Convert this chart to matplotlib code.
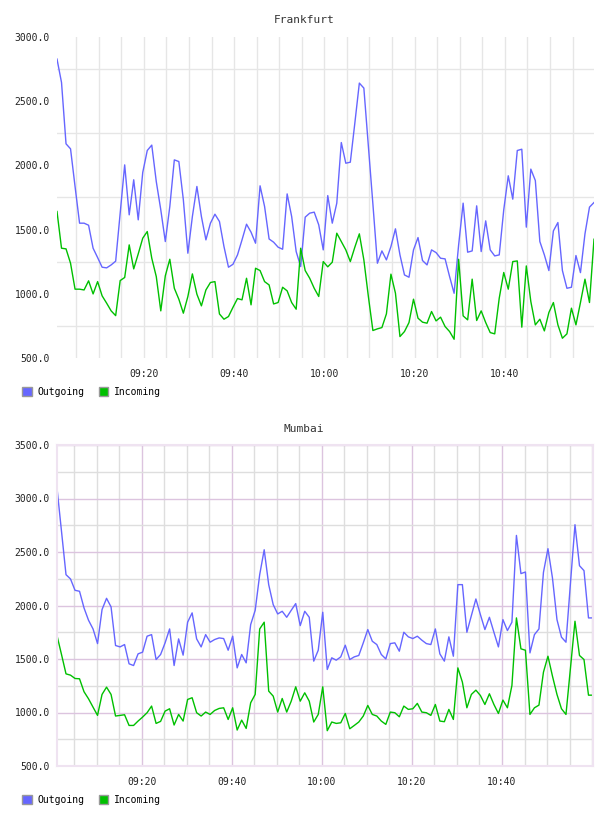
import pandas as pd
import matplotlib
matplotlib.use('Agg')
import matplotlib.pyplot as plt
import matplotlib.dates as mdates
from matplotlib.patches import Patch

plt.rcParams['font.family'] = ['DejaVu Sans Mono']

OUT_COLOR = '#6666ff'
IN_COLOR = '#00c000'

# one sample per minute
frankfurt_start = '2024-01-01 09:00:45'
mumbai_start = '2024-01-01 09:01:12'
time_labels = ['09:20', '09:40', '10:00', '10:20', '10:40']

frankfurt_out = [2828, 2646, 2168, 2129, 1836, 1550, 1550, 1534, 1355, 1282,
                 1207, 1202, 1225, 1254, 1628, 2004, 1615, 1888, 1576, 1945,
                 2116, 2158, 1874, 1654, 1407, 1680, 2043, 2030, 1732, 1316,
                 1602, 1836, 1602, 1420, 1550, 1620, 1563, 1368, 1207, 1230,
                 1303, 1420, 1542, 1480, 1394, 1841, 1680, 1427, 1402, 1363,
                 1347, 1778, 1602, 1329, 1212, 1597, 1628, 1636, 1537, 1342,
                 1765, 1550, 1706, 2178, 2017, 2025, 2329, 2641, 2602, 2150,
                 1700, 1238, 1334, 1264, 1368, 1506, 1303, 1147, 1129, 1342,
                 1438, 1259, 1225, 1342, 1321, 1277, 1272, 1134, 1004, 1380,
                 1706, 1324, 1334, 1685, 1329, 1568, 1342, 1295, 1303, 1654,
                 1919, 1737, 2116, 2126, 1519, 1971, 1882, 1407, 1303, 1181,
                 1490, 1555, 1181, 1043, 1051, 1298, 1165, 1467, 1675, 1711]

frankfurt_in = [1641, 1355, 1350, 1238, 1036, 1036, 1030, 1101, 999, 1095,
                984, 927, 867, 830, 1103, 1127, 1381, 1194, 1311, 1433,
                1485, 1277, 1134, 867, 1140, 1269, 1043, 958, 849, 979,
                1155, 997, 906, 1030, 1088, 1095, 843, 802, 823, 895,
                963, 953, 1121, 914, 1199, 1181, 1095, 1069, 921, 932,
                1051, 1023, 932, 880, 1355, 1181, 1121, 1043, 979, 1251,
                1210, 1246, 1472, 1407, 1342, 1251, 1363, 1467, 1264, 979,
                714, 727, 737, 844, 1153, 1005, 667, 706, 776, 958,
                810, 779, 771, 862, 789, 818, 745, 706, 646, 1269,
                828, 797, 1114, 792, 867, 776, 698, 688, 966, 1166,
                1036, 1251, 1256, 740, 1217, 940, 758, 802, 711, 854,
                932, 758, 654, 688, 888, 758, 932, 1114, 932, 1425]

mumbai_out = [3097, 2693, 2288, 2248, 2142, 2133, 1977, 1862, 1781, 1644,
              1962, 2067, 1987, 1626, 1613, 1635, 1455, 1439, 1548, 1564,
              1713, 1728, 1495, 1542, 1651, 1781, 1439, 1688, 1536, 1844,
              1931, 1688, 1613, 1728, 1657, 1682, 1697, 1691, 1582, 1713,
              1417, 1542, 1464, 1822, 1955, 2288, 2521, 2195, 2008, 1921,
              1946, 1890, 1955, 2018, 1812, 1946, 1890, 1480, 1582, 1937,
              1402, 1511, 1489, 1520, 1629, 1495, 1520, 1533, 1651, 1775,
              1666, 1635, 1542, 1501, 1644, 1651, 1573, 1750, 1707, 1691,
              1713, 1676, 1644, 1635, 1781, 1548, 1480, 1707, 1526, 2195,
              2195, 1750, 1906, 2061, 1915, 1775, 1890, 1750, 1613, 1868,
              1766, 1844, 2655, 2298, 2313, 1557, 1728, 1781, 2310, 2531,
              2257, 1868, 1704, 1657, 2211, 2755, 2372, 2326, 1884, 1884]

mumbai_in = [1719, 1542, 1361, 1349, 1318, 1315, 1194, 1128, 1050, 973,
             1169, 1237, 1169, 967, 973, 979, 879, 879, 920, 957,
             998, 1060, 898, 917, 1013, 1035, 883, 982, 920, 1122,
             1138, 998, 967, 1004, 982, 1019, 1038, 1044, 935, 1044,
             836, 929, 851, 1091, 1169, 1781, 1844, 1200, 1153, 1004,
             1131, 1004, 1106, 1240, 1106, 1184, 1106, 911, 982, 1240,
             830, 911, 898, 904, 991, 848, 879, 911, 967, 1066,
             982, 967, 920, 889, 1004, 998, 960, 1060, 1029, 1035,
             1085, 1004, 998, 973, 1075, 920, 914, 1029, 935, 1417,
             1284, 1044, 1169, 1209, 1159, 1075, 1175, 1075, 991, 1116,
             1044, 1253, 1884, 1595, 1582, 982, 1044, 1069, 1377, 1526,
             1340, 1169, 1035, 982, 1417, 1853, 1533, 1495, 1162, 1162]

W, H = 608, 816
fig = plt.figure(figsize=(W / 100, H / 100), dpi=100)


def px_rect(x0, y0, x1, y1):
    return [x0 / W, 1 - y1 / H, (x1 - x0) / W, (y1 - y0) / H]


def draw(rect, title, title_y, legend_y, start, out, inc, ymax, major_c, minor_c, frame_c):
    ax = fig.add_axes(rect)
    t = pd.date_range(start, periods=len(out), freq='60s')
    ax.plot(t, out, color=OUT_COLOR, lw=1.0)
    ax.plot(t, inc, color=IN_COLOR, lw=1.0)
    ax.set_xlim(t[0], t[-1])
    ax.set_ylim(500, ymax)
    ax.set_yticks(range(500, ymax + 1, 500))
    ax.set_yticklabels(['%.1f' % v for v in range(500, ymax + 1, 500)])
    day = t[0].strftime('%Y-%m-%d ')
    ax.set_xticks(pd.to_datetime([day + s for s in time_labels]))
    ax.set_xticklabels(time_labels)
    ax.xaxis.set_minor_locator(mdates.MinuteLocator(byminute=range(0, 60, 5)))
    ax.tick_params(which='both', length=0, labelsize=7, colors='#222222')
    ax.tick_params(axis='y', pad=5)
    ax.tick_params(axis='x', pad=8)
    ax.set_axisbelow(True)
    ax.grid(True, which='major', axis='x', color=major_c, lw=1)
    ax.grid(True, which='minor', axis='x', color=minor_c, lw=1)
    ax.set_yticks(range(750, ymax, 500), minor=True)
    ax.grid(True, which='minor', axis='y', color=minor_c, lw=1)
    if frame_c is None:
        # only the in-between lines are drawn
        for s in ax.spines.values():
            s.set_visible(False)
    else:
        ax.grid(True, which='major', axis='y', color=major_c, lw=1)
        for s in ax.spines.values():
            s.set_color(frame_c)
            s.set_linewidth(1.5)
    fig.text(0.5, 1 - title_y / H, title, ha='center', va='center',
             fontsize=8, color='#333333')
    handles = [Patch(facecolor=OUT_COLOR, edgecolor='#999999', lw=1),
               Patch(facecolor=IN_COLOR, edgecolor='#999999', lw=1)]
    fig.legend(handles, ['Outgoing', 'Incoming'], loc='center left',
               bbox_to_anchor=(22 / W, 1 - legend_y / H), ncol=2, frameon=False,
               fontsize=7, handlelength=1.0, handleheight=1.0, handletextpad=0.55,
               columnspacing=1.5, borderpad=0, borderaxespad=0)
    return ax


draw(px_rect(57, 37, 594, 358), 'Frankfurt', 20, 392, frankfurt_start,
     frankfurt_out, frankfurt_in, 3000, '#e6e6e6', '#e6e6e6', None)
draw(px_rect(57, 445, 593, 766), 'Mumbai', 429, 800, mumbai_start,
     mumbai_out, mumbai_in, 3500, '#dcc4df', '#dedede', '#efe3f1')

fig.savefig('out.png', dpi=100)
